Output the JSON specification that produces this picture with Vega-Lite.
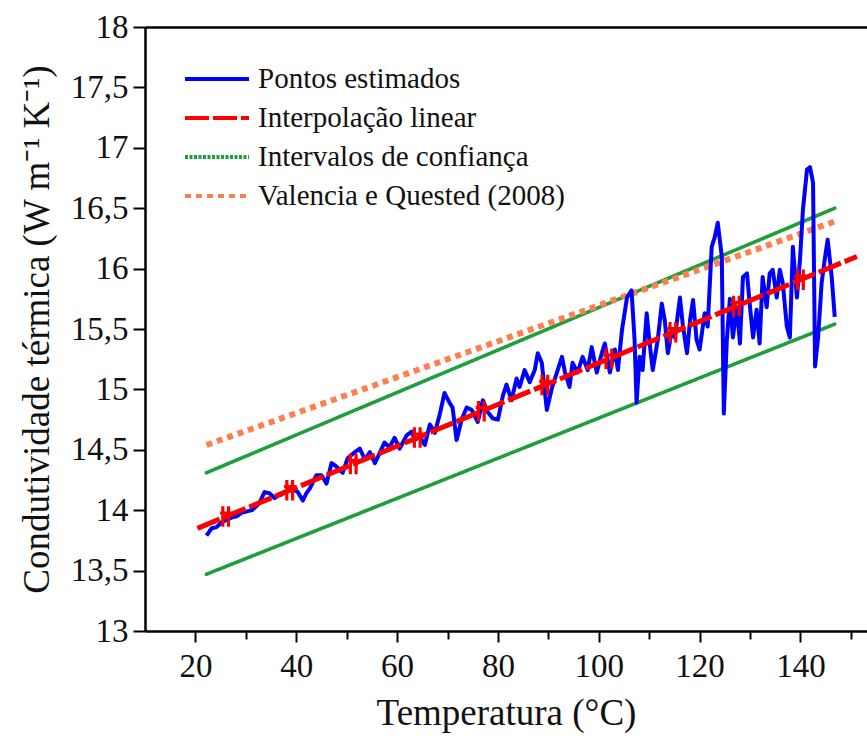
{
  "$schema": "https://vega.github.io/schema/vega-lite/v6.json",
  "autosize": {"type": "none"},
  "padding": {"left": 145, "top": 27, "right": 0, "bottom": 105},
  "width": 722,
  "height": 604,
  "background": "white",
  "config": {
    "font": "Liberation Serif",
    "view": {"stroke": null},
    "axis": {
      "domainColor": "black", "domainWidth": 2.5, "tickColor": "black", "tickWidth": 2,
      "labelFont": "Liberation Serif", "labelColor": "#111", "labelFontSize": 33,
      "titleFont": "Liberation Serif", "titleFontWeight": "normal", "titleColor": "#111", "titleFontSize": 37,
      "grid": false, "labelOverlap": false
    },
    "legend": {
      "orient": "none", "legendX": 38, "legendY": 37, "title": null,
      "symbolType": "stroke", "symbolSize": 4096, "symbolStrokeWidth": 4,
      "labelFont": "Liberation Serif", "labelFontSize": 29, "labelColor": "#111",
      "labelOffset": 7, "clipHeight": 30, "rowPadding": 9, "padding": 0, "labelLimit": 0
    }
  },
  "datasets": {
    "linhas": [
      {"s": "Intervalos de confiança", "g": "sup", "T": 22.2, "k": 14.31},
      {"s": "Intervalos de confiança", "g": "sup", "T": 146.8, "k": 16.50},
      {"s": "Intervalos de confiança", "g": "inf", "T": 22.2, "k": 13.47},
      {"s": "Intervalos de confiança", "g": "inf", "T": 146.8, "k": 15.54},
      {"s": "Valencia e Quested (2008)", "g": "vq", "T": 22.2, "k": 14.54},
      {"s": "Valencia e Quested (2008)", "g": "vq", "T": 146.8, "k": 16.39},
      {"s": "Interpolação linear", "g": "lin", "T": 20.4, "k": 13.85},
      {"s": "Interpolação linear", "g": "lin", "T": 151.2, "k": 16.10}
    ],
    "pontos": [
      {"T": 22.2, "k": 13.79}, {"T": 23.2, "k": 13.85}, {"T": 24.2, "k": 13.86}, {"T": 25.2, "k": 13.90},
      {"T": 26.2, "k": 13.92}, {"T": 27.2, "k": 13.94}, {"T": 28.2, "k": 13.95}, {"T": 29.2, "k": 13.98},
      {"T": 30.2, "k": 13.99}, {"T": 31.2, "k": 14.00}, {"T": 32.0, "k": 14.03}, {"T": 32.7, "k": 14.06},
      {"T": 33.7, "k": 14.15}, {"T": 34.7, "k": 14.14}, {"T": 35.7, "k": 14.10}, {"T": 36.4, "k": 14.12},
      {"T": 37.1, "k": 14.13}, {"T": 38.7, "k": 14.18}, {"T": 39.5, "k": 14.17}, {"T": 40.3, "k": 14.15},
      {"T": 41.3, "k": 14.08}, {"T": 42.0, "k": 14.14}, {"T": 42.7, "k": 14.18}, {"T": 44.0, "k": 14.29},
      {"T": 45.0, "k": 14.29}, {"T": 46.0, "k": 14.22}, {"T": 47.0, "k": 14.39}, {"T": 48.0, "k": 14.36},
      {"T": 49.2, "k": 14.31}, {"T": 50.2, "k": 14.43}, {"T": 51.6, "k": 14.48}, {"T": 52.6, "k": 14.51},
      {"T": 53.6, "k": 14.42}, {"T": 54.6, "k": 14.48}, {"T": 55.6, "k": 14.39}, {"T": 56.5, "k": 14.47},
      {"T": 57.5, "k": 14.56}, {"T": 58.5, "k": 14.52}, {"T": 59.5, "k": 14.60}, {"T": 60.5, "k": 14.51},
      {"T": 61.9, "k": 14.62}, {"T": 62.9, "k": 14.65}, {"T": 63.5, "k": 14.58}, {"T": 64.5, "k": 14.61},
      {"T": 65.5, "k": 14.54}, {"T": 66.5, "k": 14.71}, {"T": 67.5, "k": 14.64}, {"T": 68.5, "k": 14.80},
      {"T": 69.4, "k": 14.97}, {"T": 70.4, "k": 14.89}, {"T": 71.0, "k": 14.85}, {"T": 71.8, "k": 14.58},
      {"T": 72.8, "k": 14.75}, {"T": 73.8, "k": 14.85}, {"T": 74.8, "k": 14.83}, {"T": 76.0, "k": 14.73},
      {"T": 77.0, "k": 14.91}, {"T": 78.0, "k": 14.81}, {"T": 79.0, "k": 14.76}, {"T": 80.0, "k": 14.75},
      {"T": 81.0, "k": 14.95}, {"T": 81.7, "k": 15.04}, {"T": 82.7, "k": 14.91}, {"T": 83.7, "k": 15.09},
      {"T": 84.3, "k": 15.02}, {"T": 85.3, "k": 15.16}, {"T": 86.3, "k": 15.06}, {"T": 87.3, "k": 15.16},
      {"T": 87.9, "k": 15.30}, {"T": 88.7, "k": 15.22}, {"T": 89.7, "k": 14.83}, {"T": 90.7, "k": 15.01},
      {"T": 91.7, "k": 15.14}, {"T": 92.7, "k": 15.27}, {"T": 93.3, "k": 15.14}, {"T": 94.2, "k": 15.02},
      {"T": 94.8, "k": 15.22}, {"T": 95.8, "k": 15.14}, {"T": 96.8, "k": 15.27}, {"T": 97.8, "k": 15.16},
      {"T": 98.6, "k": 15.35}, {"T": 99.6, "k": 15.14}, {"T": 100.6, "k": 15.30}, {"T": 101.2, "k": 15.38},
      {"T": 102.2, "k": 15.14}, {"T": 103.2, "k": 15.33}, {"T": 103.8, "k": 15.16}, {"T": 104.6, "k": 15.49},
      {"T": 105.6, "k": 15.76}, {"T": 106.5, "k": 15.82}, {"T": 107.1, "k": 15.41}, {"T": 107.5, "k": 14.89},
      {"T": 108.1, "k": 15.27}, {"T": 108.7, "k": 15.16}, {"T": 109.5, "k": 15.63}, {"T": 110.1, "k": 15.38},
      {"T": 110.7, "k": 15.16}, {"T": 111.7, "k": 15.41}, {"T": 112.5, "k": 15.71}, {"T": 113.1, "k": 15.57},
      {"T": 113.7, "k": 15.30}, {"T": 114.5, "k": 15.49}, {"T": 115.1, "k": 15.43}, {"T": 116.1, "k": 15.76},
      {"T": 116.7, "k": 15.52}, {"T": 117.5, "k": 15.30}, {"T": 118.1, "k": 15.57}, {"T": 118.7, "k": 15.74},
      {"T": 119.4, "k": 15.41}, {"T": 120.0, "k": 15.33}, {"T": 121.0, "k": 15.63}, {"T": 121.6, "k": 15.52},
      {"T": 122.4, "k": 16.18}, {"T": 123.0, "k": 16.26}, {"T": 123.6, "k": 16.38}, {"T": 124.4, "k": 16.10},
      {"T": 124.8, "k": 14.80}, {"T": 125.4, "k": 15.41}, {"T": 126.0, "k": 15.75}, {"T": 126.6, "k": 15.43},
      {"T": 127.4, "k": 15.68}, {"T": 128.0, "k": 15.38}, {"T": 128.6, "k": 15.93}, {"T": 129.4, "k": 15.96},
      {"T": 130.0, "k": 15.68}, {"T": 130.6, "k": 15.43}, {"T": 131.3, "k": 15.66}, {"T": 131.9, "k": 15.38},
      {"T": 132.5, "k": 15.93}, {"T": 133.3, "k": 15.68}, {"T": 133.9, "k": 15.96}, {"T": 134.5, "k": 15.99},
      {"T": 135.3, "k": 15.76}, {"T": 135.9, "k": 15.99}, {"T": 136.5, "k": 15.88}, {"T": 137.3, "k": 15.52},
      {"T": 137.9, "k": 15.43}, {"T": 138.5, "k": 16.18}, {"T": 139.3, "k": 15.76}, {"T": 139.9, "k": 16.07},
      {"T": 140.5, "k": 16.49}, {"T": 141.3, "k": 16.82}, {"T": 141.9, "k": 16.84}, {"T": 142.5, "k": 16.71},
      {"T": 142.9, "k": 15.19}, {"T": 143.5, "k": 15.43}, {"T": 144.2, "k": 15.88}, {"T": 144.8, "k": 16.07},
      {"T": 145.4, "k": 16.24}, {"T": 146.2, "k": 15.93}, {"T": 146.8, "k": 15.60}
    ],
    "marcadores": [
      {"T": 26.0, "k": 13.947}, {"T": 38.7, "k": 14.166}, {"T": 51.3, "k": 14.382}, {"T": 64.0, "k": 14.601},
      {"T": 76.7, "k": 14.819}, {"T": 89.3, "k": 15.036}, {"T": 102.0, "k": 15.254}, {"T": 114.7, "k": 15.473},
      {"T": 127.3, "k": 15.690}, {"T": 140.0, "k": 15.908}
    ]
  },
  "resolve": {"axis": {"x": "independent"}},
  "layer": [
    {
      "data": {"name": "linhas"},
      "transform": [{"filter": "datum.s === 'Intervalos de confiança'"}],
      "mark": {"type": "line", "strokeWidth": 3.6, "strokeCap": "round"},
      "encoding": {
        "x": {
          "field": "T", "type": "quantitative",
          "scale": {"domain": [10, 153.2], "nice": false, "zero": false},
          "axis": {
            "title": "Temperatura (°C)", "values": [20, 30, 40, 50, 60, 70, 80, 90, 100, 110, 120, 130, 140, 150],
            "format": "d", "labelExpr": "datum.value % 20 === 0 ? datum.label : ''",
            "labelFont": "Liberation Serif", "titleFont": "Liberation Serif",
            "tickSize": {"condition": {"test": "datum.value % 20 === 0", "value": 11}, "value": 8},
            "labelPadding": 8, "titlePadding": 12
          }
        },
        "y": {
          "field": "k", "type": "quantitative",
          "scale": {"domain": [13, 18], "nice": false, "zero": false},
          "axis": {
            "title": "Condutividade térmica (W m⁻¹ K⁻¹)",
            "values": [13, 13.25, 13.5, 13.75, 14, 14.25, 14.5, 14.75, 15, 15.25, 15.5, 15.75, 16, 16.25, 16.5, 16.75, 17, 17.25, 17.5, 17.75, 18],
            "format": ".2~f",
            "labelFont": "Liberation Serif", "titleFont": "Liberation Serif",
            "labelExpr": "datum.value % 0.5 === 0 ? replace(datum.label, '.', ',') : ''",
            "tickSize": {"condition": {"test": "datum.value % 0.5 === 0", "value": 12}, "value": 8},
            "labelPadding": 5, "titlePadding": 14
          }
        },
        "color": {
          "field": "s", "type": "nominal",
          "scale": {
            "domain": ["Pontos estimados", "Interpolação linear", "Intervalos de confiança", "Valencia e Quested (2008)"],
            "range": ["#0000ff", "#ff0000", "#1f9e3c", "#ff7f50"]
          }
        },
        "strokeDash": {
          "field": "s", "type": "nominal",
          "scale": {
            "domain": ["Pontos estimados", "Interpolação linear", "Intervalos de confiança", "Valencia e Quested (2008)"],
            "range": [[1, 0], [24, 4], [3, 1.5], [6, 5]]
          }
        },
        "detail": {"field": "g"}
      }
    },
    {
      "data": {"name": "linhas"},
      "transform": [{"filter": "datum.s === 'Valencia e Quested (2008)'"}],
      "mark": {"type": "line", "strokeWidth": 6, "strokeCap": "butt"},
      "encoding": {
        "x": {"field": "T", "type": "quantitative", "axis": null},
        "y": {"field": "k", "type": "quantitative"},
        "color": {"field": "s", "type": "nominal"},
        "strokeDash": {"field": "s", "type": "nominal"}
      }
    },
    {
      "data": {"name": "pontos"},
      "transform": [{"calculate": "'Pontos estimados'", "as": "s"}],
      "mark": {"type": "line", "strokeWidth": 4, "strokeJoin": "round"},
      "encoding": {
        "x": {"field": "T", "type": "quantitative", "axis": null},
        "y": {"field": "k", "type": "quantitative"},
        "color": {"field": "s", "type": "nominal"},
        "strokeDash": {"field": "s", "type": "nominal"}
      }
    },
    {
      "data": {"name": "linhas"},
      "transform": [{"filter": "datum.s === 'Interpolação linear'"}],
      "mark": {"type": "line", "strokeWidth": 5, "strokeCap": "butt"},
      "encoding": {
        "x": {"field": "T", "type": "quantitative", "axis": null},
        "y": {"field": "k", "type": "quantitative"},
        "color": {"field": "s", "type": "nominal"},
        "strokeDash": {"field": "s", "type": "nominal"}
      }
    },
    {
      "data": {"name": "marcadores"},
      "mark": {"type": "point", "shape": "M-0.28,-1L-0.28,1M0.28,-1L0.28,1M-0.55,-0.35L0.55,-0.35", "filled": false, "stroke": "#ff0000", "strokeWidth": 3.2, "size": 420, "opacity": 1},
      "encoding": {
        "x": {"field": "T", "type": "quantitative", "axis": null},
        "y": {"field": "k", "type": "quantitative"}
      }
    },
    {
      "data": {"name": "marcadores"},
      "mark": {"type": "point", "opacity": 0},
      "encoding": {
        "x": {"field": "T", "type": "quantitative", "axis": {"orient": "top", "labels": false, "ticks": false, "title": null}},
        "y": {"field": "k", "type": "quantitative"}
      }
    }
  ]
}
